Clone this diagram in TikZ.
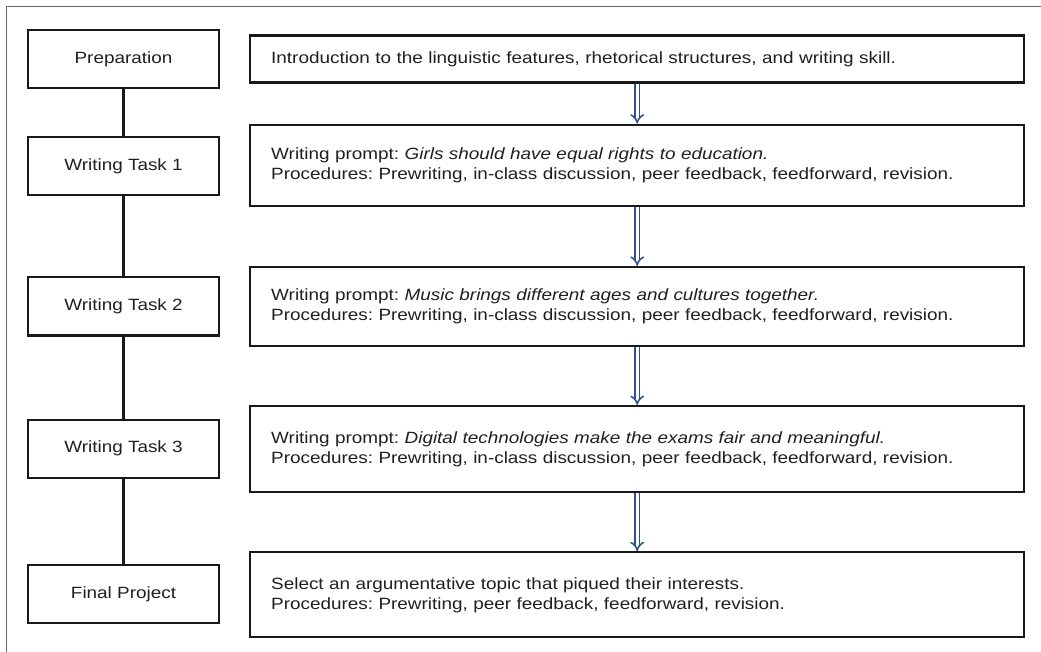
\documentclass[tikz,border=0pt]{standalone}
\usepackage{fontspec}
\setmainfont[FakeStretch=1.16]{Liberation Sans}
\usetikzlibrary{positioning, arrows.meta}
\definecolor{flowblue}{RGB}{47,82,143}
\frenchspacing

\begin{document}
\begin{tikzpicture}[x=1pt, y=-1pt, thick]
\tikzset{
  stage/.style={draw=black!90, line width=2.2pt, minimum width=191pt, minimum height=58pt, inner sep=0pt, text=black!88, font=\fontsize{16.3}{20}\selectfont},
  desc/.style={draw=black!90, line width=2.2pt, minimum width=774pt, text width=732pt, inner xsep=21pt, inner ysep=0pt, align=left, text=black!88, font=\fontsize{16.3}{20}\selectfont},
  link/.style={draw=black!90, line width=2.2pt},
  flow/.style={draw=flowblue, line width=1.6pt, double=white, double distance=3pt, -{Implies[scale=1.5]}}
}
\useasboundingbox (0,0) rectangle (1041,652);

% frame
\draw[black!60, line width=1pt] (6,652) -- (6,7) -- (1041,7);

% left column : stages
\node[stage] (prep) at (123.5,59) {Preparation};
\node[stage, below=47pt of prep] (task1) {Writing Task 1};
\node[stage, below=80pt of task1] (task2) {Writing Task 2};
\node[stage, below=82pt of task2] (task3) {Writing Task 3};
\node[stage, below=85pt of task3] (final) {Final Project};

\draw[link] (prep) -- (task1);
\draw[link] (task1) -- (task2);
\draw[link] (task2) -- (task3);
\draw[link] (task3) -- (final);

% right column : descriptions
\node[desc, minimum height=47pt, right=29pt of prep] (intro) {Introduction to the linguistic features, rhetorical structures, and writing skill.};
\node[desc, minimum height=81pt, below=40pt of intro] (prompt1) {Writing prompt: \textit{Girls should have equal rights to education.}\\Procedures: Prewriting, in-class discussion, peer feedback, feedforward, revision.};
\node[desc, minimum height=79pt, below=59pt of prompt1] (prompt2) {Writing prompt: \textit{Music brings different ages and cultures together.}\\Procedures: Prewriting, in-class discussion, peer feedback, feedforward, revision.};
\node[desc, minimum height=86pt, below=58pt of prompt2] (prompt3) {Writing prompt: \textit{Digital technologies make the exams fair and meaningful.}\\Procedures: Prewriting, in-class discussion, peer feedback, feedforward, revision.};
\node[desc, minimum height=85pt, below=58pt of prompt3] (project) {Select an argumentative topic that piqued their interests.\\Procedures: Prewriting, peer feedback, feedforward, revision.};

\draw[flow] (intro) -- (prompt1);
\draw[flow] (prompt1) -- (prompt2);
\draw[flow] (prompt2) -- (prompt3);
\draw[flow] (prompt3) -- (project);

\end{tikzpicture}
\end{document}
